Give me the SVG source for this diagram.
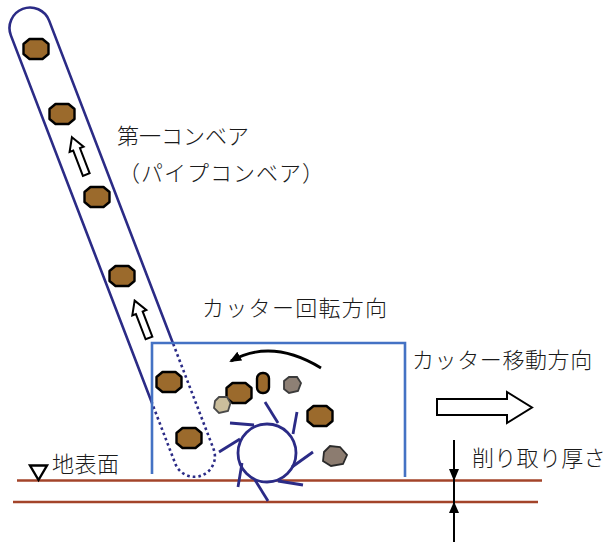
<svg xmlns="http://www.w3.org/2000/svg" width="609" height="542" viewBox="0 0 609 542">
  <style>
    .lbl { font-family: "Noto Sans CJK JP", sans-serif; font-size: 22px; font-weight: 300; fill: #1a1a1a; }
    .belt { fill: none; stroke: #2B2B86; stroke-width: 2.6; }
    .belt-hidden { fill: none; stroke: #2B2B86; stroke-width: 2.6; stroke-dasharray: 2.6 3; }
    .rock { fill: #9B6A2C; stroke: #000; stroke-width: 2.4; stroke-linejoin: round; }
    .blade { stroke: #2B2B86; stroke-width: 2.8; stroke-linecap: butt; fill: none; }
    .ground { stroke: #A3442A; stroke-width: 2.6; }
    .hollow { fill: #fff; stroke: #000; stroke-width: 2; stroke-linejoin: miter; }
    .dim { stroke: #000; stroke-width: 2; }
  </style>
  <defs>
    <polygon id="oct" points="-6.5,-10 6.5,-10 12.5,-5 12.5,5 6.5,10 -6.5,10 -12.5,5 -12.5,-5"/>
    <polygon id="upArrow" points="0,0 7.5,13 3.6,13 3.6,40 -3.6,40 -3.6,13 -7.5,13"/>
    <clipPath id="inBox"><rect x="152" y="343" width="253" height="160"/></clipPath>
    <clipPath id="outBox"><path clip-rule="evenodd" d="M0 0H609V542H0Z M152 343H405V542H152Z"/></clipPath>
    <marker id="headL" viewBox="0 0 12 10" refX="10" refY="5" markerWidth="12" markerHeight="10" markerUnits="userSpaceOnUse" orient="auto">
      <path d="M0 0L12 5L0 10Z" fill="#000"/>
    </marker>
    <filter id="soft" x="-30%" y="-30%" width="160%" height="160%"><feGaussianBlur stdDeviation="0.7"/></filter>
  </defs>

  <!-- ground surface and cut depth line -->
  <g id="ground">
    <line class="ground" x1="17" y1="480.5" x2="542" y2="480.5"/>
    <line class="ground" x1="13" y1="502" x2="538" y2="502"/>
    <polygon points="30,465.5 47,465.5 38.5,480" fill="#fff" stroke="#000" stroke-width="2.4" stroke-linejoin="miter"/>
    <text class="lbl" x="52" y="472" letter-spacing="0.5">地表面</text>
  </g>

  <!-- pipe conveyor: solid outside the cutter housing, dotted inside -->
  <g id="conveyor">
    <g clip-path="url(#outBox)">
      <g transform="translate(30,28) rotate(-21)">
        <path class="belt" d="M-20.5 0V458.8A20.5 20.5 0 0 0 20.5 458.8V0A20.5 20.5 0 0 0 -20.5 0Z"/>
      </g>
    </g>
    <g clip-path="url(#inBox)">
      <g transform="translate(30,28) rotate(-21)">
        <path class="belt-hidden" d="M-20.5 0V458.8A20.5 20.5 0 0 0 20.5 458.8V0A20.5 20.5 0 0 0 -20.5 0Z"/>
      </g>
    </g>
    <g transform="translate(30,28) rotate(-21)">
      <use href="#upArrow" class="hollow" transform="translate(0,117)"/>
      <use href="#upArrow" class="hollow" transform="translate(0,292)"/>
    </g>
    <use href="#oct" class="rock" x="36" y="49"/>
    <use href="#oct" class="rock" x="62" y="114"/>
    <use href="#oct" class="rock" x="97" y="197"/>
    <use href="#oct" class="rock" x="122" y="276"/>
    <use href="#oct" class="rock" x="169" y="382"/>
    <use href="#oct" class="rock" x="189" y="438"/>
    <text class="lbl" x="117" y="144" font-size="18.5">第一コンベア</text>
    <text class="lbl" x="118" y="181" textLength="206" lengthAdjust="spacing">（パイプコンベア）</text>
  </g>

  <!-- cutter housing -->
  <g id="housing">
    <path d="M152 474V343H405V477" fill="none" stroke="#4472C4" stroke-width="2.6"/>
    <text class="lbl" x="202" y="316" letter-spacing="1.3">カッター回転方向</text>
    <text class="lbl" x="412" y="368" letter-spacing="0.6">カッター移動方向</text>
  </g>

  <!-- rotating cutter drum with blades -->
  <g id="cutter">
    <circle cx="267" cy="453" r="29" fill="#fff" stroke="#2B2B86" stroke-width="2.8"/>
    <line class="blade" x1="278" y1="423" x2="265" y2="402"/>
    <line class="blade" x1="293" y1="434" x2="297" y2="412"/>
    <line class="blade" x1="254" y1="425" x2="230" y2="423"/>
    <line class="blade" x1="240" y1="439" x2="219" y2="452"/>
    <line class="blade" x1="242" y1="463" x2="238" y2="487"/>
    <line class="blade" x1="255" y1="480" x2="268" y2="501"/>
    <line class="blade" x1="278" y1="481" x2="303" y2="485"/>
    <line class="blade" x1="292" y1="467" x2="313" y2="452"/>
  </g>

  <!-- excavated material -->
  <g id="debris">
    <use href="#oct" class="rock" x="239" y="393"/>
    <rect class="rock" x="257" y="373" width="12" height="20" rx="5.5"/>
    <use href="#oct" class="rock" x="320" y="416"/>
    <polygon points="215,401 219,397 227,397 230.5,403 228,411 219,413 214,408" fill="#CBBE9C" stroke="#4a4a4a" stroke-width="1.8" filter="url(#soft)"/>
    <polygon points="284,381 289,377 297,377 301,383 298,391 289,393 284,389" fill="#8E8075" stroke="#3a3a3a" stroke-width="1.8" filter="url(#soft)"/>
    <polygon points="324,452 330,446 340,447 347,455 343,464 331,466 323,461" fill="#8C7C70" stroke="#2a2a2a" stroke-width="1.8" filter="url(#soft)"/>
  </g>

  <!-- thickness label -->
  <g id="depth-label">
    <text class="lbl" x="472" y="466" letter-spacing="0.3">削り取り厚さ</text>
  </g>

  <g id="connectors">
    <!-- rotation direction -->
    <path d="M321 368Q272 338 231 361" fill="none" stroke="#000" stroke-width="2.8" marker-end="url(#headL)"/>
    <!-- travel direction -->
    <polygon class="hollow" points="437,399 507,399 507,392 532,407.5 507,423 507,415 437,415"/>
    <!-- cut depth dimension -->
    <line class="dim" x1="454" y1="440" x2="454" y2="542"/>
    <polygon points="449,469 459,469 454,481" fill="#000"/>
    <polygon points="449,513 459,513 454,501.5" fill="#000"/>
  </g>
</svg>
